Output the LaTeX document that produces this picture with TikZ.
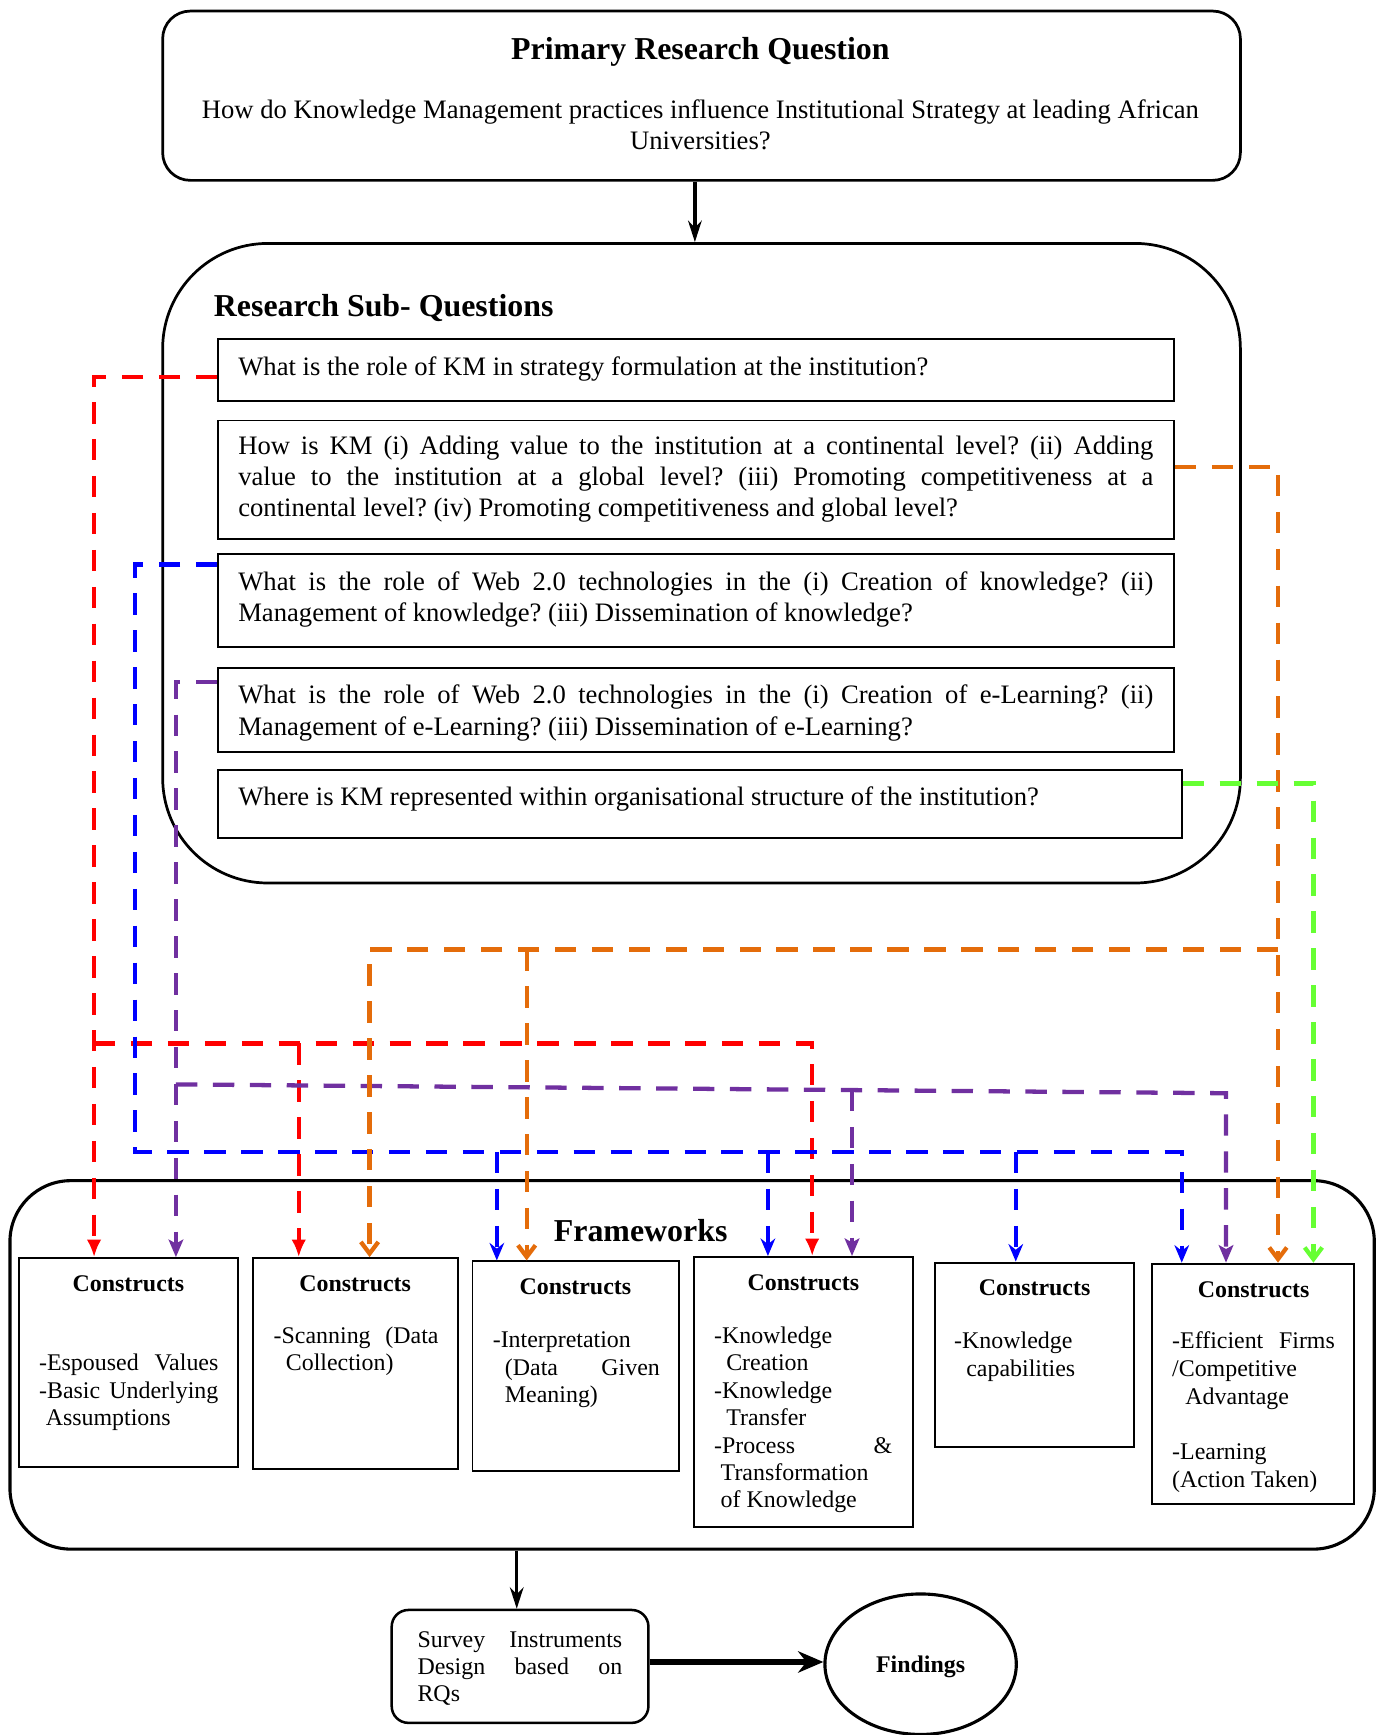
\documentclass[tikz,border=0pt]{standalone}
\usepackage{fontspec}
\setmainfont{Liberation Serif}
\usetikzlibrary{arrows.meta,shapes.geometric,fit,calc}
\frenchspacing

% one drawing unit
\newlength\pxu
\setlength\pxu{0.02cm}
% justified line of a given width, plain line, stack of lines
\newcommand\jl[2]{\hbox to #1\pxu{#2}}
\newcommand\pl[1]{\hbox{#1}}
\newcommand\vlines[2]{\vtop{\baselineskip=#1\relax\lineskiplimit=-20pt #2}}

\newcommand\fbody{\fontsize{13.7}{15.9}\selectfont}
\newcommand\fhead{\fontsize{16.4}{19}\selectfont\bfseries}
\newcommand\fcon{\fontsize{12.3}{14.1}\selectfont}

\definecolor{kred}{RGB}{255,0,0}
\definecolor{kblue}{RGB}{0,0,255}
\definecolor{kpurple}{RGB}{112,48,160}
\definecolor{korange}{RGB}{228,108,10}
\definecolor{kgreen}{RGB}{102,255,51}

\tikzset{
  frame/.style={draw, inner sep=0pt, line width=1pt},
  bigframe/.style={draw, inner sep=0pt, line width=1.4pt},
  txt/.style={inner sep=0pt, anchor=base west},
  ctxt/.style={inner sep=0pt, anchor=base},
  link/.style={line width=2.2pt, dash pattern=on 11pt off 8pt},
  redlink/.style={link, draw=kred, -{Latex[length=9pt,width=7.5pt]}},
  bluelink/.style={link, draw=kblue, -{Stealth[length=9pt,width=7.5pt]}},
  purplelink/.style={link, draw=kpurple, -{Stealth[length=9pt,width=7.5pt,inset=2pt]}},
  orangelink/.style={link, draw=korange, -{Straight Barb[length=6pt,width=9pt]}},
  greenlink/.style={link, draw=kgreen, -{Straight Barb[length=6pt,width=9pt]}},
  flow/.style={line width=1.7pt, -{Stealth[length=11pt,width=7pt]}},
}

\begin{document}
\begin{tikzpicture}[x=0.02cm, y=-0.02cm]
\useasboundingbox (0,0) rectangle (1248,1568);

% ---------- primary question ----------
\node[bigframe, rounded corners=0.5cm, fit={(147,10) (1121,163)}] (prq) {};
\node[ctxt, font=\fhead] (prqT) at (633,54) {Primary Research Question};
\node[ctxt, font=\fbody] (prqA) at (633,107) {How do Knowledge Management practices influence Institutional Strategy at leading African};
\node[ctxt, font=\fbody] (prqB) at (633,135) {Universities?};

% ---------- sub-questions ----------
\node[bigframe, rounded corners=1.9cm, fit={(147,220) (1121,798)}] (sq) {};
\node[txt, font=\fhead] (sqT) at (193,286) {Research Sub- Questions};

\node[frame, fit={(197,306) (1061,362)}] (q1) {};
\node[frame, fit={(197,380) (1061,487)}] (q2) {};
\node[frame, fit={(197,501) (1061,585)}] (q3) {};
\node[frame, fit={(197,604) (1061,680)}] (q4) {};
\node[frame, fit={(197,696) (1068,757)}] (q5) {};

\node[txt, font=\fbody] (q1t) at (215,339) {What is the role of KM in strategy formulation at the institution?};
\node[txt, font=\fbody] (q2t) at (215,411) {\vlines{28\pxu}{%
  \jl{827}{How is KM (i) Adding value to the institution at a continental level? (ii) Adding}%
  \jl{827}{value to the institution at a global level? (iii) Promoting competitiveness at a}%
  \pl{continental level? (iv) Promoting competitiveness and global level?}}};
\node[txt, font=\fbody] (q3t) at (215,534) {\vlines{28\pxu}{%
  \jl{827}{What is the role of Web 2.0 technologies in the (i) Creation of knowledge? (ii)}%
  \pl{Management of knowledge? (iii) Dissemination of knowledge?}}};
\node[txt, font=\fbody] (q4t) at (215,636) {\vlines{29\pxu}{%
  \jl{827}{What is the role of Web 2.0 technologies in the (i) Creation of e-Learning? (ii)}%
  \pl{Management of e-Learning? (iii) Dissemination of e-Learning?}}};
\node[txt, font=\fbody] (q5t) at (215,728) {Where is KM represented within organisational structure of the institution?};

% ---------- frameworks ----------
\node[bigframe, line width=1.6pt, rounded corners=1.1cm, fit={(9,1067) (1242,1400)}] (fw) {};
\node[ctxt, font=\fhead] (fwT) at (579,1122) {Frameworks};

\node[frame, fit={(17,1137) (215,1326)}] (c1) {};
\node[frame, fit={(229,1137) (414,1328)}] (c2) {};
\node[frame, fit={(427,1140) (614,1329)}] (c3) {};
\node[frame, fit={(627,1136) (825,1380)}] (c4) {};
\node[frame, fit={(845,1141) (1025,1308)}] (c5) {};
\node[frame, fit={(1041,1142) (1224,1359)}] (c6) {};

\node[ctxt, font=\fcon\bfseries] (c1T) at (116,1167) {Constructs};
\node[ctxt, font=\fcon\bfseries] (c2T) at (321,1167) {Constructs};
\node[ctxt, font=\fcon\bfseries] (c3T) at (520,1170) {Constructs};
\node[ctxt, font=\fcon\bfseries] (c4T) at (726,1166) {Constructs};
\node[ctxt, font=\fcon\bfseries] (c5T) at (935,1171) {Constructs};
\node[ctxt, font=\fcon\bfseries] (c6T) at (1133,1173) {Constructs};

\node[txt, font=\fcon] (c1b) at (35,1239) {\vlines{24.8\pxu}{%
  \jl{162}{-Espoused Values}\jl{162}{-Basic Underlying}\pl{\hspace{6\pxu}Assumptions}}};
\node[txt, font=\fcon] (c2b) at (247,1214) {\vlines{24.8\pxu}{%
  \jl{149}{-Scanning (Data}\pl{\hspace{11\pxu}Collection)}}};
\node[txt, font=\fcon] (c3b) at (445,1218) {\vlines{24.8\pxu}{%
  \pl{-Interpretation}\pl{\hspace{11\pxu}\hbox to 140\pxu{(Data Given}}\pl{\hspace{11\pxu}Meaning)}}};
\node[txt, font=\fcon] (c4b) at (645,1214) {\vlines{24.8\pxu}{%
  \pl{-Knowledge}\pl{\hspace{11\pxu}Creation}\pl{-Knowledge}\pl{\hspace{11\pxu}Transfer}%
  \jl{161}{-Process \&}\pl{\hspace{6\pxu}Transformation}\pl{\hspace{6\pxu}of Knowledge}}};
\node[txt, font=\fcon] (c5b) at (862,1219) {\vlines{24.8\pxu}{%
  \pl{-Knowledge}\pl{\hspace{11\pxu}capabilities}}};
\node[txt, font=\fcon] (c6b) at (1059,1219) {\vlines{25\pxu}{%
  \jl{147}{-Efficient Firms}\pl{/Competitive}\pl{\hspace{12\pxu}Advantage}\pl{}%
  \pl{-Learning}\pl{(Action Taken)}}};

% ---------- survey and findings ----------
\node[frame, line width=1.3pt, rounded corners=0.3cm, fit={(354,1455) (586,1557)}] (sv) {};
\node[txt, font=\fcon] (svt) at (377,1489) {\vlines{24.5\pxu}{%
  \jl{185}{Survey Instruments}\jl{185}{Design based on}\pl{RQs}}};
\node[draw, ellipse, line width=1.6pt, inner sep=0pt, minimum width=3.46cm, minimum height=2.54cm,
      text height=8.2pt, text depth=0pt, font=\fcon\bfseries] (fd) at (832,1504) {Findings};

% ---------- solid flow arrows ----------
\draw[flow] ($(prq.south)+(-6,0)$) -- ($(sq.north)+(-6,0)$);
\draw[flow] ($(sv.north |- fw.south)+(-3,0)$) -- ($(sv.north)+(-3,0)$);
\draw[line width=2.8pt, -{Stealth[length=13pt,width=11pt]}] ($(sv.east |- fd.west)+(0,-2)$) -- ($(fd.west)+(0,-2)$);

% ---------- coloured links from questions to constructs ----------
\coordinate (rA) at (85,943);
\coordinate (rB) at (270,943);
\coordinate (rC) at (734,943);
\coordinate (bA) at (122,1041);
\coordinate (bB) at (449,1041);
\coordinate (bC) at (694,1041);
\coordinate (bD) at (918,1041);
\coordinate (bE) at (1068,1041);
\coordinate (pA) at (159,980);
\coordinate (pB) at (1108,988);
\coordinate (pC) at (770,985);
\coordinate (oA) at (1155,858);
\coordinate (oB) at (334,858);
\coordinate (oC) at (476,858);
\coordinate (gA) at (1187,709);

\draw[redlink] ($(q1.west)+(0,7)$) -| (rA |- c1.north);
\draw[redlink] (rA) -- (rC) -- (rC |- c4.north);
\draw[redlink] (rB) -- (rB |- c2.north);

\draw[bluelink] ($(q3.north west)+(0,10)$) -| (bA) -- (bE) -- (bE |- c6.north);
\draw[bluelink] (bB) -- (bB |- c3.north);
\draw[bluelink] (bC) -- (bC |- c4.north);
\draw[bluelink] (bD) -- (bD |- c5.north);

\draw[purplelink] ($(q4.north west)+(0,13)$) -| (pA |- c1.north);
\draw[purplelink] (pA) -- (pB) -- (pB |- c6.north);
\draw[purplelink] (pC) -- (pC |- c4.north);

\draw[orangelink] ($(q2.north east)+(0,43)$) -| (oA |- c6.north);
\draw[orangelink] (oA) -- (oB) -- (oB |- c2.north);
\draw[orangelink] (oC) -- (oC |- c3.north);

\draw[greenlink] ($(q5.north east)+(0,13)$) -| (gA |- c6.north);
\end{tikzpicture}
\end{document}
